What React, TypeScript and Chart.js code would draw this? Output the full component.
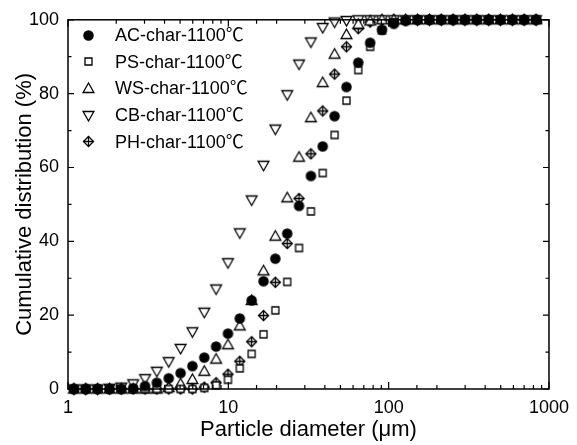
import React, { useEffect, useRef } from "react";
import { Chart, registerables } from "chart.js";

Chart.register(...registerables);

const diameters = [1.089, 1.291, 1.53, 1.814, 2.15, 2.55, 3.022, 3.583, 4.248, 5.036, 5.97, 7.077, 8.39, 9.947, 11.79, 13.98, 16.58, 19.65, 23.29, 27.61, 32.73, 38.81, 46.01, 54.54, 64.66, 76.66, 90.88, 107.7, 127.7, 151.4, 179.5, 212.8, 252.3, 299.1, 354.5, 420.3, 498.3, 590.7, 700.3, 830.2];

const acChar = [0, 0, 0, 0, 0, 0.2, 0.8, 1.7, 2.9, 4.3, 6.2, 8.5, 11.5, 15.0, 19.1, 24.0, 29.2, 35.3, 42.1, 49.6, 57.7, 65.7, 73.9, 81.8, 88.4, 93.8, 97.3, 98.9, 99.7, 100, 100, 100, 100, 100, 100, 100, 100, 100, 100, 100];
const psChar = [0, 0, 0, 0, 0, 0, 0, 0, 0, 0, 0, 0.3, 1.0, 2.5, 5.6, 9.5, 14.8, 21.3, 29.0, 38.2, 48.1, 58.5, 68.8, 78.1, 86.4, 92.7, 97.1, 99.3, 99.9, 100, 100, 100, 100, 100, 100, 100, 100, 100, 100, 100];
const wsChar = [0, 0, 0, 0, 0, 0, 0, 0, 0.4, 1.4, 2.6, 4.8, 8.1, 12.0, 17.1, 24.0, 32.0, 41.4, 51.8, 62.8, 73.5, 83.0, 90.7, 96.0, 98.8, 99.7, 100, 100, 100, 100, 100, 100, 100, 100, 100, 100, 100, 100, 100, 100];
const cbChar = [0, 0, 0, 0.2, 0.5, 1.4, 2.8, 4.8, 7.4, 11.0, 15.5, 20.8, 27.1, 34.2, 42.3, 51.2, 60.6, 70.4, 79.7, 88.0, 94.0, 97.9, 99.4, 99.8, 100, 100, 100, 100, 100, 100, 100, 100, 100, 100, 100, 100, 100, 100, 100, 100];
const phChar = [0, 0, 0, 0, 0, 0, 0, 0, 0, 0, 0, 0.5, 1.7, 4.0, 7.5, 12.8, 19.9, 28.9, 39.4, 51.6, 63.7, 75.3, 85.3, 92.7, 97.6, 99.4, 99.9, 100, 100, 100, 100, 100, 100, 100, 100, 100, 100, 100, 100, 100];

const seriesLabels = ["AC-char-1100℃", "PS-char-1100℃", "WS-char-1100℃", "CB-char-1100℃", "PH-char-1100℃"];
const seriesValues = [acChar, psChar, wsChar, cbChar, phChar];
const markerKinds = ["circle", "square", "up", "down", "diamondCross"];

const yTickValues = [0, 20, 40, 60, 80, 100];
const xTickLabels = ["1", "10", "100", "1000"];

const FONT = "'Liberation Sans', Arial, 'Noto Sans CJK SC', sans-serif";

function makeMarker(kind: string): HTMLCanvasElement {
  const s = 15;
  const c = document.createElement("canvas");
  c.width = s;
  c.height = s;
  const ctx = c.getContext("2d")!;
  const cx = s / 2;
  const cy = s / 2;
  ctx.lineWidth = 1.3;
  ctx.strokeStyle = "#000";
  ctx.fillStyle = "#fff";
  ctx.lineJoin = "miter";
  ctx.beginPath();
  if (kind === "circle") {
    ctx.fillStyle = "#000";
    ctx.arc(cx, cy, 4.6, 0, Math.PI * 2);
    ctx.fill();
    ctx.stroke();
  } else if (kind === "square") {
    ctx.rect(cx - 3.5, cy - 3.5, 7, 7);
    ctx.fill();
    ctx.stroke();
  } else if (kind === "up") {
    ctx.moveTo(cx, cy - 5.5);
    ctx.lineTo(cx + 5.4, cy + 4);
    ctx.lineTo(cx - 5.4, cy + 4);
    ctx.closePath();
    ctx.fill();
    ctx.stroke();
  } else if (kind === "down") {
    ctx.moveTo(cx, cy + 5.5);
    ctx.lineTo(cx + 5.4, cy - 4);
    ctx.lineTo(cx - 5.4, cy - 4);
    ctx.closePath();
    ctx.fill();
    ctx.stroke();
  } else {
    const h = 5;
    ctx.moveTo(cx, cy - h);
    ctx.lineTo(cx + h, cy);
    ctx.lineTo(cx, cy + h);
    ctx.lineTo(cx - h, cy);
    ctx.closePath();
    ctx.fill();
    ctx.stroke();
    ctx.beginPath();
    ctx.moveTo(cx, cy - h);
    ctx.lineTo(cx, cy + h);
    ctx.moveTo(cx - h, cy);
    ctx.lineTo(cx + h, cy);
    ctx.stroke();
  }
  return c;
}

function isPow10(v: number) {
  const l = Math.log10(v);
  return Math.abs(l - Math.round(l)) < 1e-9;
}

export default function App() {
  const ref = useRef<HTMLCanvasElement | null>(null);

  useEffect(() => {
    document.body.style.margin = "0";
    const canvas = ref.current!;
    const markers = markerKinds.map(makeMarker);

    const datasets = seriesLabels.map((label, i) => ({
      label,
      data: diameters.map((d, j) => ({ x: d, y: seriesValues[i][j] })),
      pointStyle: markers[i] as any,
      pointRadius: 6,
      showLine: false,
      clip: false as any,
    }));

    const framePlugin = {
      id: "frame",
      afterDraw(chart: any) {
        const { ctx, chartArea } = chart;
        const { left, right, top, bottom } = chartArea;
        const xs = chart.scales.x;
        const ys = chart.scales.y;
        ctx.save();
        ctx.strokeStyle = "#000";
        ctx.lineWidth = 1.5;
        ctx.strokeRect(left, top, right - left, bottom - top);
        ctx.lineWidth = 1.2;
        ctx.beginPath();
        ys.ticks.forEach((t: any) => {
          const py = ys.getPixelForValue(t.value);
          const len = t.value % 20 === 0 ? 6 : 3.5;
          ctx.moveTo(left, py);
          ctx.lineTo(left + len, py);
          ctx.moveTo(right, py);
          ctx.lineTo(right - len, py);
        });
        xs.ticks.forEach((t: any) => {
          const px = xs.getPixelForValue(t.value);
          const len = isPow10(t.value) ? 7 : 4;
          ctx.moveTo(px, bottom);
          ctx.lineTo(px, bottom - len);
          ctx.moveTo(px, top);
          ctx.lineTo(px, top + len);
        });
        ctx.stroke();
        ctx.restore();
      },
    };

    const legendPlugin = {
      id: "insideLegend",
      afterDraw(chart: any) {
        const { ctx } = chart;
        ctx.save();
        ctx.font = `18px ${FONT}`;
        ctx.fillStyle = "#000";
        ctx.textBaseline = "middle";
        ctx.textAlign = "left";
        chart.data.datasets.forEach((ds: any, i: number) => {
          const y = 35 + i * 26.7;
          const img = ds.pointStyle as HTMLCanvasElement;
          ctx.drawImage(img, Math.round(88 - img.width / 2), Math.round(y - img.height / 2));
          ctx.fillText(ds.label, 115, y + 1);
        });
        ctx.restore();
      },
    };

    const chart = new Chart(canvas, {
      type: "scatter",
      data: { datasets: datasets as any },
      options: {
        animation: false,
        responsive: false,
        layout: { padding: { left: 0, right: 22, top: 16, bottom: 0 } },
        plugins: {
          legend: { display: false },
          tooltip: { enabled: false },
        },
        scales: {
          x: {
            type: "logarithmic",
            min: 1,
            max: 1000,
            grid: { display: false, drawTicks: false },
            border: { display: false },
            ticks: {
              autoSkip: false,
              maxRotation: 0,
              padding: 8,
              color: "#000",
              font: { family: FONT, size: 18 },
              callback: (v: any) => {
                const n = Number(v);
                if (!isPow10(n)) return "";
                const idx = Math.round(Math.log10(n));
                return xTickLabels[idx] ?? "";
              },
            },
            title: {
              display: true,
              text: "Particle diameter (μm)",
              color: "#000",
              font: { family: FONT, size: 22 },
              padding: { top: 0, bottom: 2 },
            },
            afterFit: (s: any) => {
              s.height = 56;
            },
          },
          y: {
            min: 0,
            max: 100,
            grid: { display: false, drawTicks: false },
            border: { display: false },
            ticks: {
              stepSize: 10,
              padding: 9,
              color: "#000",
              font: { family: FONT, size: 18 },
              callback: (v: any) => (yTickValues.includes(Number(v)) ? String(v) : ""),
            },
            title: {
              display: true,
              text: "Cumulative distribution (%)",
              color: "#000",
              font: { family: FONT, size: 22 },
              padding: { top: 12, bottom: 0 },
            },
            afterFit: (s: any) => {
              s.width = 68;
            },
          },
        },
      },
      plugins: [framePlugin, legendPlugin],
    });

    return () => chart.destroy();
  }, []);

  return (
    <div style={{ width: 577, height: 445 }}>
      <canvas ref={ref} width={577} height={445} />
    </div>
  );
}
